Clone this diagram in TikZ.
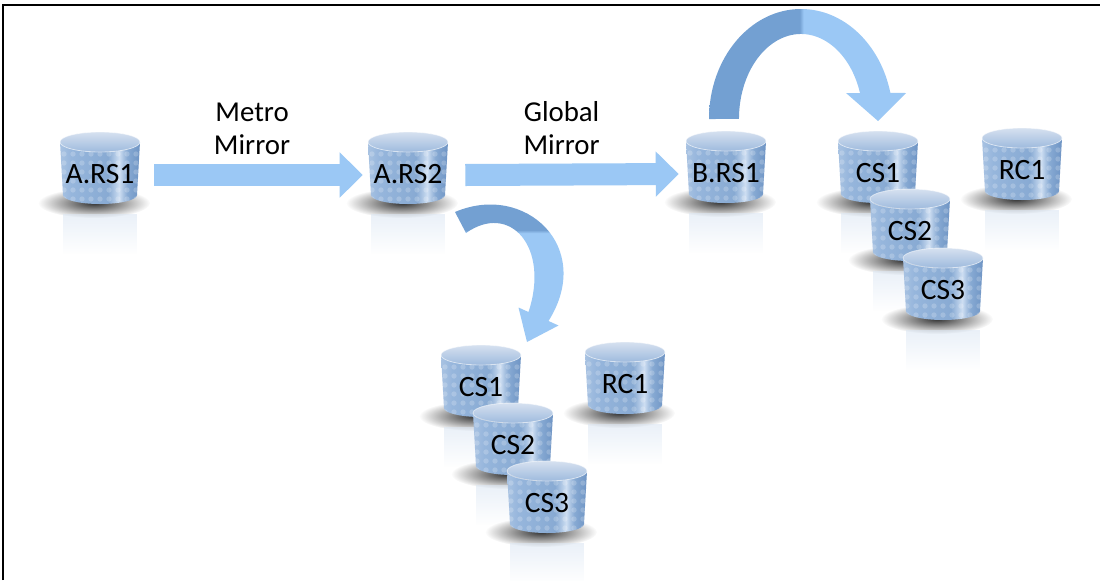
\documentclass[tikz,border=0pt]{standalone}
\usepackage{fontspec}
\setmainfont{Carlito}
\usetikzlibrary{arrows.meta,calc,fadings}

\definecolor{drumA}{RGB}{168,194,226}
\definecolor{drumB}{RGB}{150,182,220}
\definecolor{drumC}{RGB}{136,170,211}
\definecolor{drumHi}{RGB}{205,222,242}
\definecolor{drumD}{RGB}{110,148,196}
\definecolor{drumTopA}{RGB}{214,225,240}
\definecolor{drumTopB}{RGB}{158,186,221}
\definecolor{flowlight}{RGB}{155,200,245}
\definecolor{flowdark}{RGB}{115,160,210}

\pgfdeclarehorizontalshading{drumbody}{100bp}{color(0bp)=(drumA); color(25bp)=(drumA);
  color(32bp)=(drumB); color(55bp)=(drumC); color(62bp)=(drumHi); color(67bp)=(drumC);
  color(75bp)=(drumD); color(100bp)=(drumD)}
\pgfdeclarehorizontalshading{ribbonover}{100bp}{color(0bp)=(flowdark); color(48bp)=(flowdark);
  color(49bp)=(flowlight); color(100bp)=(flowlight)}
\pgfdeclareverticalshading{ribbondown}{100bp}{color(0bp)=(flowlight); color(59bp)=(flowlight);
  color(60bp)=(flowdark); color(100bp)=(flowdark)}
\tikzfading[name=softglow, inner color=transparent!0, outer color=transparent!100]

\tikzset{
  drumlabel/.style={minimum width=2cm, minimum height=1.8cm, inner sep=0pt,
    font=\fontsize{21}{25}\selectfont},
  flow/.style={draw=flowlight, line width=0.55cm, -{Triangle[width=1.1cm,length=0.575cm]}},
  flowtext/.style={midway, align=center, font=\fontsize{20.5}{23.4}\selectfont},
}

% disk drum: #1 name, #2 centre, #3 label
\newcommand{\diskdrum}[3]{%
  \begin{scope}[shift={#2}]
    \fill[black, opacity=.8, path fading=softglow]
      (-6,29) ellipse[x radius=56, y radius=15];
    \fill[drumA!40, opacity=.6, path fading=south] (-37,40) rectangle (37,80);
    \shade[shading=drumbody] (-40,-32) -- (-37,21)
      arc[start angle=180, end angle=0, x radius=37, y radius=9] -- (40,-32)
      arc[start angle=0, end angle=180, x radius=40, y radius=10] -- cycle;
    \begin{scope}
      \clip (-40,-32) -- (-37,21)
        arc[start angle=180, end angle=0, x radius=37, y radius=9] -- (40,-32)
        arc[start angle=0, end angle=180, x radius=40, y radius=10] -- cycle;
      \foreach \i in {-36,-27,...,36}
        \foreach \j in {-20,-11,...,25}
          \fill[white, opacity=.2] (\i,\j) circle[radius=2.7];
    \end{scope}
    \shade[top color=drumTopA, bottom color=drumTopB] (0,-32) ellipse[x radius=40, y radius=10];
    \draw[white, opacity=.5, line width=.6pt] (0,-32) ellipse[x radius=40, y radius=10];
    \node[drumlabel] (#1) at (0,0) {#3};
  \end{scope}}

\begin{document}
\begin{tikzpicture}[x=0.025cm, y=-0.025cm]
\useasboundingbox (0,0) rectangle (1100,580);
\fill[white] (0,0) rectangle (1100,580);
\draw[line width=1pt] (3,580) -- (3,5) -- (1100,5);

% site A
\diskdrum{ars1}{(100,174)}{A.RS1}
\diskdrum{ars2}{(408,174)}{A.RS2}
\diskdrum{acs1}{(481,387)}{CS1}
\diskdrum{acs2}{(513,445)}{CS2}
\diskdrum{acs3}{(547,503)}{CS3}
\diskdrum{arc1}{(625,384)}{RC1}

% site B
\diskdrum{brs1}{(726,173)}{B.RS1}
\diskdrum{bcs1}{(878,173)}{CS1}
\diskdrum{bcs2}{(910,231)}{CS2}
\diskdrum{bcs3}{(943,290)}{CS3}
\diskdrum{brc1}{(1022,170)}{RC1}

% replication links
\draw[flow] ($(ars1.east)+(14,1)$) -- ($(ars2.west)+(-5,1)$)
  node[flowtext, xshift=-4.6pt, yshift=33pt] (metro) {Metro\\Mirror};
\draw[flow] ($(ars2.east)+(17,1)$) -- ($(brs1.west)+(-7,1)$)
  node[flowtext, xshift=-7.4pt, yshift=33pt] (global) {Global\\Mirror};

% flash copies
\begin{scope}[shift={(brs1)}]
  \shade[shading=ribbonover] (-17,-54)
    arc[start angle=180, end angle=346.3, x radius=92, y radius=110]
    -- (180,-80) -- (152,-52) -- (120,-80) -- (134,-80)
    arc[start angle=342.2, end angle=180, x radius=62, y radius=85] -- cycle;
\end{scope}
\begin{scope}[shift={(ars2)}]
  \shade[shading=ribbondown] (47,38) .. controls (117,8) and (187,73) .. (140.5,147)
    -- (150.5,151.5) -- (119,168) -- (110.5,133.5) -- (120.5,138)
    .. controls (142,73) and (102,28) .. (58,59) -- cycle;
\end{scope}
\end{tikzpicture}
\end{document}
